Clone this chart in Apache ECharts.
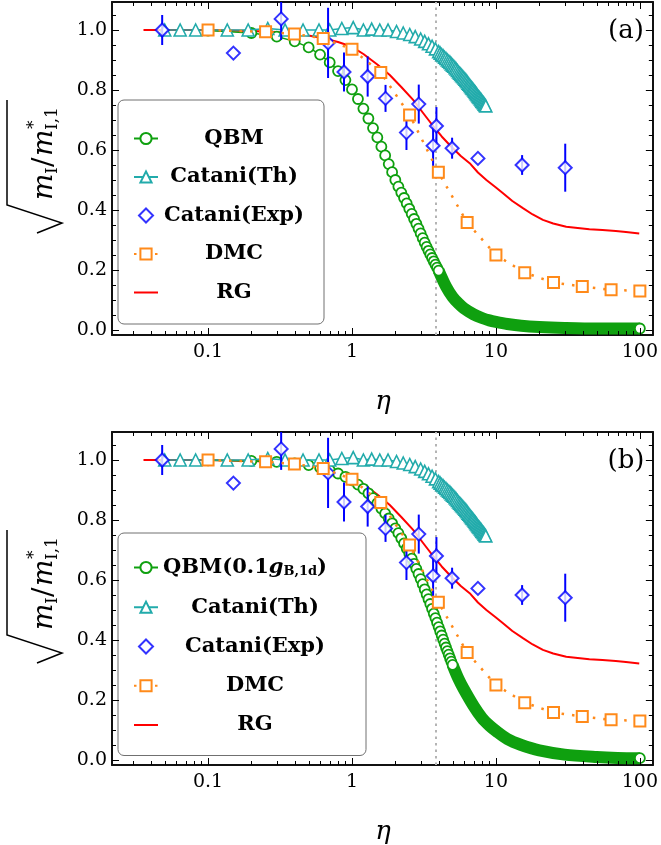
<!DOCTYPE html>
<html><head><meta charset="utf-8">
<script src="https://cdn.jsdelivr.net/npm/echarts@6/dist/echarts.min.js"></script>
<style>html,body{margin:0;padding:0;background:#fff}#c{width:661px;height:845px}</style>
</head><body><div id="c"></div>
<script>
// ---------------- data ----------------
const qbmHeadEtaA = [0.1,0.2,0.3,0.4,0.5,0.6,0.7,0.8,0.9,1.0,1.1,1.2,1.3,1.4,1.5,1.6,1.7,1.8,1.9,2.0,2.1,2.2,2.3,2.4,2.5,2.6,2.7,2.8,2.9,3.0,3.1,3.2,3.3,3.4,3.5,3.6,3.7,3.8,3.9,4.0];
const qbmHeadValA = [0.998,0.990,0.978,0.962,0.942,0.918,0.892,0.863,0.833,0.802,0.770,0.738,0.705,0.673,0.642,0.611,0.582,0.553,0.526,0.500,0.478,0.458,0.440,0.422,0.404,0.387,0.370,0.354,0.338,0.322,0.306,0.291,0.277,0.264,0.252,0.240,0.229,0.218,0.208,0.198];
const qbmTailEtaA = [4.0,4.5,5,5.5,6,7,8,9,10,12,15,20,30,50,70,100];
const qbmTailValA = [0.198,0.145,0.110,0.088,0.072,0.052,0.040,0.032,0.027,0.020,0.014,0.010,0.007,0.005,0.005,0.005];

const qbmHeadEtaB = [0.1,0.2,0.3,0.4,0.5,0.6,0.7,0.8,0.9,1.0,1.1,1.2,1.3,1.4,1.5,1.6,1.7,1.8,1.9,2.0,2.1,2.2,2.3,2.4,2.5,2.6,2.7,2.8,2.9,3.0,3.1,3.2,3.3,3.4,3.5,3.6,3.7,3.8,3.9,4.0,4.1,4.2,4.3,4.4,4.5,4.6,4.7,4.8,4.9,5.0];
const qbmHeadValB = [0.999,0.997,0.994,0.989,0.983,0.975,0.966,0.955,0.944,0.932,0.918,0.904,0.889,0.873,0.856,0.838,0.822,0.805,0.789,0.772,0.756,0.739,0.722,0.705,0.688,0.671,0.654,0.637,0.620,0.603,0.586,0.569,0.552,0.536,0.520,0.504,0.488,0.473,0.458,0.443,0.429,0.415,0.401,0.388,0.375,0.363,0.351,0.339,0.328,0.317];
const qbmTailEtaB = [5.0,5.5,6,7,8,9,10,12,15,20,30,50,70,100];
const qbmTailValB = [0.317,0.270,0.235,0.180,0.140,0.115,0.097,0.070,0.050,0.032,0.018,0.010,0.007,0.006];

const thEta = [0.05,0.064,0.082,0.136,0.19,0.26,0.343,0.457,0.59,0.70,0.85,1.02,1.2,1.37,1.56,1.78,2.04,2.27,2.52,2.75,3.0,3.2,3.4,3.6,3.8,4.0,4.1,4.2,4.3,4.4,4.5,4.6,4.7,4.8,4.9,5.0,5.1,5.2,5.3,5.4,5.5,5.6,5.7,5.8,5.9,6.0,6.1,6.2,6.3,6.4,6.5,6.6,6.7,6.8,6.9,7.0,7.1,7.2,7.3,7.4,7.5,7.6,7.7,7.8,7.9,8.0,8.1,8.2,8.3,8.4,8.5];
const thVal = [1.0,1.0,1.0,1.0,1.0,1.005,1.0,1.0,1.0,1.0,1.005,1.008,1.0,1.003,1.0,1.0,0.995,0.99,0.985,0.978,0.97,0.962,0.954,0.946,0.937,0.928,0.923,0.918,0.914,0.909,0.905,0.9,0.896,0.892,0.887,0.883,0.879,0.874,0.87,0.865,0.86,0.856,0.852,0.848,0.844,0.84,0.836,0.832,0.828,0.823,0.819,0.815,0.811,0.807,0.804,0.8,0.796,0.792,0.788,0.784,0.78,0.777,0.774,0.77,0.767,0.763,0.76,0.757,0.753,0.75,0.747];

const expEta = [0.048,0.150,0.322,0.682,0.88,1.285,1.71,2.39,2.91,3.66,3.86,4.96,7.5,15.2,30.3];
const expVal = [1.0,0.923,1.037,0.957,0.86,0.845,0.772,0.658,0.753,0.614,0.68,0.606,0.572,0.55,0.541];
const expErr = [0.05,0,0.07,0.117,0.065,0.067,0.045,0.058,0.065,0.067,0.063,0.035,0,0.033,0.08];

const dmcEta = [0.1,0.251,0.398,0.631,1.0,1.585,2.512,3.981,6.31,10,15.85,25.12,39.81,63.1,100];
const dmcVal = [1.0,0.994,0.987,0.972,0.936,0.858,0.717,0.526,0.358,0.25,0.191,0.158,0.145,0.134,0.13];

const rgEta = [0.0356,0.1,0.2,0.3,0.45,0.6,0.8,1.0,1.2,1.5,1.83,2.2,2.66,3.1,3.66,4.2,4.9,5.7,6.57,7.5,8.58,10,11.2,13,15.4,18,21.2,25,30.8,37,44.6,55,68,80,99];
const rgVal = [1.0,1.0,0.997,0.993,0.985,0.975,0.96,0.944,0.92,0.885,0.85,0.81,0.767,0.725,0.68,0.645,0.611,0.58,0.556,0.525,0.5,0.475,0.456,0.43,0.406,0.385,0.367,0.355,0.344,0.34,0.336,0.333,0.33,0.327,0.322];

const ETA_REF = 3.82;

const xMajorTicks = [0.1,1,10,100];
const xMinorTicks = [0.03,0.04,0.05,0.06,0.07,0.08,0.09,0.2,0.3,0.4,0.5,0.6,0.7,0.8,0.9,2,3,4,5,6,7,8,9,20,30,40,50,60,70,80,90];
const yMajorTicks = [0,0.2,0.4,0.6,0.8,1.0];
const yMinorTicks = [0.05,0.1,0.15,0.25,0.3,0.35,0.45,0.5,0.55,0.65,0.7,0.75,0.85,0.9,0.95,1.05];

const X_MIN = 0.02151, X_MAX = 123.1, Y_MIN = -0.0167, Y_MAX = 1.0933;

// ---------------- style ----------------
const SERIF = '"DejaVu Serif", serif';
const GREEN = '#0fa00f', TEAL = '#22abab', BLUE = '#0000ff', ORANGE = '#ff8a1a', RED = '#ff0000';
const GRIDS = [{left:112, top:2, width:542, height:333}, {left:112, top:432, width:542, height:333}];
const DIAMOND_ICON = 'path://M7,0 L14,7 L7,14 L0,7 Z';

const zip = (a, b) => a.map((v, i) => [v, b[i]]);

function axesFor(p) {
  const line = {show:true, onZero:false, lineStyle:{color:'#111', width:2}};
  const xs = [
    {type:'log', logBase:10, gridIndex:p, min:X_MIN, max:X_MAX, position:'bottom',
     axisLine:line, axisTick:{show:false}, splitLine:{show:false}, minorTick:{show:false},
     axisLabel:{showMinLabel:false, showMaxLabel:false, margin:8, color:'#000', fontFamily:SERIF, fontSize:19,
       formatter: v => String(+v.toPrecision(3))}},
    {type:'log', logBase:10, gridIndex:p, min:X_MIN, max:X_MAX, position:'top',
     axisLine:line, axisTick:{show:false}, splitLine:{show:false}, axisLabel:{show:false}}
  ];
  const ys = [
    {type:'value', gridIndex:p, min:Y_MIN, max:Y_MAX, position:'left',
     axisLine:line, axisTick:{show:false}, splitLine:{show:false},
     axisLabel:{customValues:yMajorTicks, margin:5, color:'#000', fontFamily:SERIF, fontSize:19,
       formatter: v => Number(v).toFixed(1)}},
    {type:'value', gridIndex:p, min:Y_MIN, max:Y_MAX, position:'right',
     axisLine:line, axisTick:{show:false}, splitLine:{show:false}, axisLabel:{show:false}}
  ];
  return {xs, ys};
}

function tickSeries(p) {
  const st = {stroke:'#000', lineWidth:1};
  const xData = xMinorTicks.map(v => [v, 0.5, 0]).concat(xMajorTicks.map(v => [v, 0.5, 1]));
  const yData = yMinorTicks.map(v => [1, v, 0]).concat(yMajorTicks.map(v => [1, v, 1]));
  return [
    {type:'custom', xAxisIndex:p*2, yAxisIndex:p*2, silent:true, z:20, data:xData, encode:{x:0, y:1},
     renderItem(params, api) {
       const cs = params.coordSys;
       const px = Math.round(api.coord([api.value(0), 0.5])[0]) + 0.5;
       const len = api.value(2) ? 7 : 4;
       const b = cs.y + cs.height;
       return {type:'group', children:[
         {type:'line', shape:{x1:px, y1:b, x2:px, y2:b - len}, style:st},
         {type:'line', shape:{x1:px, y1:cs.y, x2:px, y2:cs.y + len}, style:st}]};
     }},
    {type:'custom', xAxisIndex:p*2, yAxisIndex:p*2, silent:true, z:20, data:yData, encode:{x:0, y:1},
     renderItem(params, api) {
       const cs = params.coordSys;
       const py = Math.round(api.coord([1, api.value(1)])[1]) + 0.5;
       const len = api.value(2) ? 7 : 4;
       const r = cs.x + cs.width;
       return {type:'group', children:[
         {type:'line', shape:{x1:cs.x, y1:py, x2:cs.x + len, y2:py}, style:st},
         {type:'line', shape:{x1:r, y1:py, x2:r - len, y2:py}, style:st}]};
     }}
  ];
}

function seriesFor(p, qName, hEta, hVal, tEta, tVal) {
  const xi = p*2, yi = p*2;
  const last = tEta.length - 1;
  return [
    {type:'line', name:'RG', xAxisIndex:xi, yAxisIndex:yi, data:zip(rgEta, rgVal), symbol:'none', silent:true,
     lineStyle:{color:RED, width:2}, itemStyle:{color:RED}, z:2,
     markLine:{silent:true, symbol:'none', z:1, label:{show:false}, animation:false,
       lineStyle:{color:'#b4b4b4', type:[2.5,4], width:2}, emphasis:{disabled:true},
       data:[{xAxis:ETA_REF}]}},
    {type:'line', name:qName + '_band', xAxisIndex:xi, yAxisIndex:yi, data:zip(tEta, tVal), symbol:'none', silent:true,
     smooth:0.3, lineStyle:{color:GREEN, width:12}, z:3},
    {type:'line', name:qName, xAxisIndex:xi, yAxisIndex:yi, connectNulls:false,
     data:zip(hEta, hVal).concat([['-', '-'], [tEta[last], tVal[last]]]), symbol:'circle', symbolSize:10, showAllSymbol:true, silent:true,
     itemStyle:{color:'#fff', borderColor:GREEN, borderWidth:1.8}, lineStyle:{color:GREEN, width:1.5}, z:4},
    {type:'line', name:'Catani(Th)', xAxisIndex:xi, yAxisIndex:yi, data:zip(thEta, thVal), symbol:'triangle', symbolSize:12, showAllSymbol:true, silent:true,
     itemStyle:{color:'#fff', borderColor:TEAL, borderWidth:1.6}, lineStyle:{color:TEAL, width:1.5}, z:5},
    {type:'custom', xAxisIndex:xi, yAxisIndex:yi, silent:true, z:6, encode:{x:0, y:1},
     data:expEta.map((e, i) => [e, expVal[i], expErr[i]]),
     renderItem(params, api) {
       const e = api.value(2);
       if (!e) return;
       const cs = params.coordSys;
       const lo = api.coord([api.value(0), api.value(1) - e]);
       const hi = api.coord([api.value(0), api.value(1) + e]);
       return {type:'line', shape:{x1:lo[0], y1:Math.min(lo[1], cs.y + cs.height), x2:hi[0], y2:Math.max(hi[1], cs.y)},
               style:{stroke:BLUE, lineWidth:2}};
     }},
    {type:'scatter', name:'Catani(Exp)', xAxisIndex:xi, yAxisIndex:yi, data:zip(expEta, expVal), symbol:'diamond', symbolSize:13, silent:true,
     itemStyle:{color:'#fff', borderColor:BLUE, borderWidth:2}, z:7},
    {type:'line', name:'DMC', xAxisIndex:xi, yAxisIndex:yi, data:zip(dmcEta, dmcVal), symbol:'rect', symbolSize:11, showAllSymbol:true, silent:true,
     itemStyle:{color:'#fff', borderColor:ORANGE, borderWidth:2}, lineStyle:{color:ORANGE, width:2.5, type:[2.5,8]}, z:8}
  ];
}

function legendFor(names, textW, gap, top, pad) {
  const LH = 22;
  const rich = {
    c:{width:textW, align:'center', fontFamily:SERIF, fontWeight:'bold', fontSize:21, lineHeight:LH, color:'#000'},
    b:{fontFamily:SERIF, fontWeight:'bold', fontSize:21, lineHeight:LH, color:'#000'},
    bi:{fontFamily:SERIF, fontWeight:'bold', fontStyle:'italic', fontSize:21, lineHeight:LH, color:'#000'},
    s:{fontFamily:SERIF, fontWeight:'bold', fontSize:13, lineHeight:13, verticalAlign:'bottom', color:'#000'}
  };
  return {orient:'vertical', left:118, top:top, padding:pad, itemGap:gap, itemWidth:24, itemHeight:14,
    selectedMode:false, backgroundColor:'#fff', borderColor:'#707070', borderWidth:1, borderRadius:6, symbolKeepAspect:true,
    data:names.map(n => n === 'RG' ? {name:'RG', itemStyle:{opacity:0}}
                       : n === 'Catani(Exp)' ? {name:n, icon:DIAMOND_ICON, itemStyle:{color:'#fff', borderColor:BLUE, borderWidth:2}}
                       : n),
    formatter: n => n === 'QBM(0.1gB,1d)' ? '{b|QBM(0.1}{bi|g}{s|B,1d}{b|)}' : '{c|' + n + '}',
    textStyle:{rich}};
}

function yLabel(dy) {
  const big = 'italic 28px ' + SERIF, up = '28px ' + SERIF, sm = '17px ' + SERIF;
  const t = (x, y, text, font) => ({type:'text', x, y, style:{text, font, fill:'#000', align:'left', verticalAlign:'middle', textAlign:'left', textVerticalAlign:'middle'}});
  return [
    {type:'polyline', shape:{points:[[7, 100 + dy], [7, 205 + dy], [62, 223 + dy], [37, 233 + dy]]}, style:{stroke:'#000', lineWidth:1.5, fill:null}},
    {type:'group', x:45, y:200 + dy, rotation:Math.PI / 2, children:[
      t(0, 0, 'm', big), t(26, 8, 'I', sm), t(33, 0, '/', up), t(44, 0, 'm', big), t(71, -10, '*', sm), t(70, 8, 'I,1', sm)
    ]}
  ];
}

const A = axesFor(0), B = axesFor(1);
const option = {
  animation:false,
  backgroundColor:'#fff',
  grid:GRIDS,
  xAxis:[...A.xs, ...B.xs],
  yAxis:[...A.ys, ...B.ys],
  legend:[
    legendFor(['QBM','Catani(Th)','Catani(Exp)','DMC','RG'], 142, 17.5, 100, [28,19,21,15]),
    legendFor(['QBM(0.1gB,1d)','Catani(Th)','Catani(Exp)','DMC','RG'], 184, 18.25, 533, [24,19,20,15])
  ],
  series:[
    ...seriesFor(0, 'QBM', qbmHeadEtaA, qbmHeadValA, qbmTailEtaA, qbmTailValA), ...tickSeries(0),
    ...seriesFor(1, 'QBM(0.1gB,1d)', qbmHeadEtaB, qbmHeadValB, qbmTailEtaB, qbmTailValB), ...tickSeries(1)
  ],
  graphic:[
    ...yLabel(0), ...yLabel(430),
    {type:'text', x:626, y:31, style:{text:'(a)', font:'26px ' + SERIF, fill:'#000', align:'center', verticalAlign:'middle', textAlign:'center', textVerticalAlign:'middle'}},
    {type:'text', x:626, y:461, style:{text:'(b)', font:'26px ' + SERIF, fill:'#000', align:'center', verticalAlign:'middle', textAlign:'center', textVerticalAlign:'middle'}},
    {type:'text', x:383, y:402, style:{text:'η', font:'italic 26px ' + SERIF, fill:'#000', align:'center', verticalAlign:'middle', textAlign:'center', textVerticalAlign:'middle'}},
    {type:'text', x:383, y:832, style:{text:'η', font:'italic 26px ' + SERIF, fill:'#000', align:'center', verticalAlign:'middle', textAlign:'center', textVerticalAlign:'middle'}}
  ]
};
const chart = echarts.init(document.getElementById('c'), null, {renderer:'canvas'});
chart.setOption(option);
</script>
</body></html>
